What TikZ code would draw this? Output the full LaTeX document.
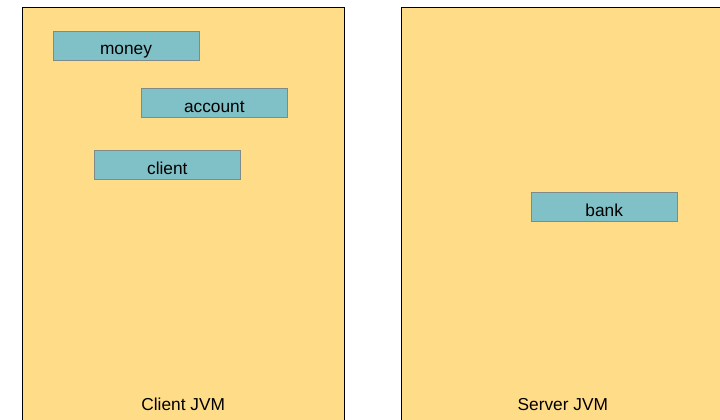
\documentclass[tikz,border=0pt]{standalone}
\usepackage{fontspec}
\setmainfont{Liberation Sans}
\definecolor{jvmfill}{HTML}{FFDD88}
\definecolor{objfill}{HTML}{80C1C8}
\definecolor{objline}{HTML}{7F8A8A}
\begin{document}
\begin{tikzpicture}[x=1pt,y=-1pt,
  jvm/.style={draw=black, line width=1pt, fill=jvmfill},
  obj/.style={draw=objline, line width=1pt, fill=objfill, minimum width=146pt, minimum height=29pt,
    inner xsep=0pt, inner ysep=0pt, text height=18pt, text depth=0pt,
    font=\fontsize{17.3}{20}\selectfont},
  lbl/.style={anchor=base, inner sep=0pt, font=\fontsize{17.3}{20}\selectfont}]
\useasboundingbox (0,0) rectangle (720,420);
\clip (0,0) rectangle (720,420);
\fill[white] (0,0) rectangle (720,420);
\draw[jvm] (22,8) rectangle (344,440);
\draw[jvm] (401,8) rectangle (740,440);
\node[obj] (money) at (126,45.7) {money};
\node[obj] (account) at (214.3,103) {account};
\node[obj] (client) at (167.3,165) {client};
\node[obj] (bank) at (604.2,207) {bank};
\node[lbl] (clientjvm) at (183.2,410.7) {Client JVM};
\node[lbl] (serverjvm) at (562.8,410.7) {Server JVM};
\end{tikzpicture}
\end{document}
